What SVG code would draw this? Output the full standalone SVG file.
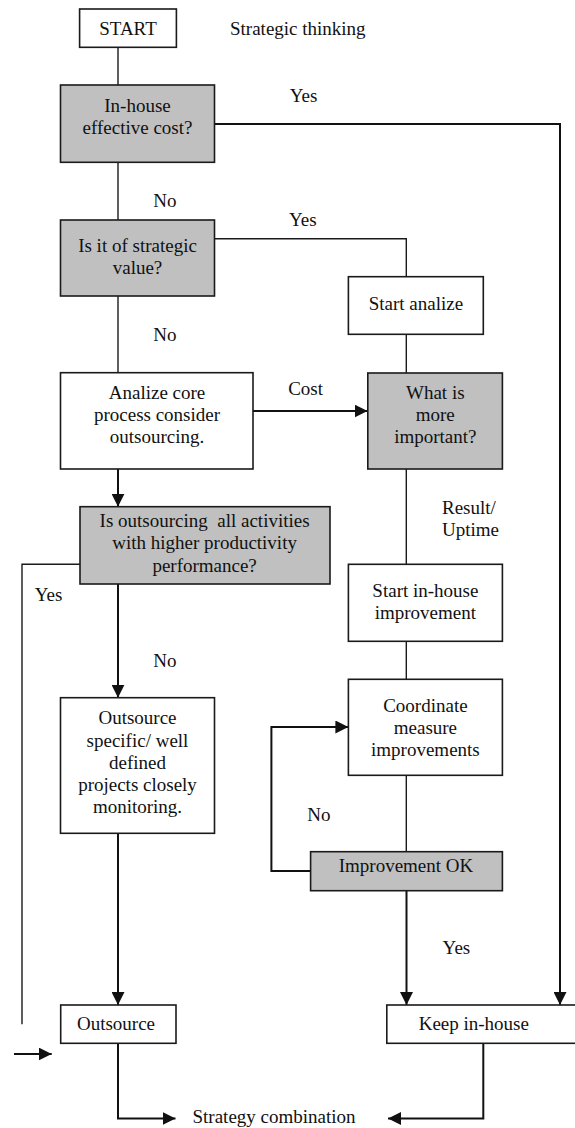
<svg xmlns="http://www.w3.org/2000/svg" width="575" height="1128" viewBox="0 0 575 1128">
<style>
  text { font-family: "Liberation Serif", "Times New Roman", serif; font-size: 19px; fill: #111; }
  .c { text-anchor: middle; }
  .box { fill: #fff; stroke: #1a1a1a; stroke-width: 1.6; }
  .dec { fill: #c0c0c0; stroke: #1a1a1a; stroke-width: 1.6; }
  .ln { fill: none; stroke: #1a1a1a; stroke-width: 1.4; }
  .ar { fill: none; stroke: #111; stroke-width: 2; marker-end: url(#ah); }
</style>
<defs>
  <marker id="ah" markerUnits="userSpaceOnUse" markerWidth="14" markerHeight="13" refX="13" refY="6.5" orient="auto">
    <path d="M0,0 L13,6.5 L0,13 Z" fill="#111"/>
  </marker>
</defs>
<rect width="575" height="1128" fill="#fff"/>

<g id="connectors">
  <path class="ln" d="M118,47.3 V85"/>
  <path class="ar" d="M214.5,124 H560 V1005"/>
  <path class="ln" d="M118,162.3 V220"/>
  <path class="ln" d="M214.5,238.7 H406.3 V276.7"/>
  <path class="ln" d="M118,296 V372.7"/>
  <path class="ln" d="M406.3,334.3 V373"/>
  <path class="ar" d="M253,411 H367.5"/>
  <path class="ln" d="M406.3,469 V564.3"/>
  <path class="ar" d="M118,469 V506.7"/>
  <path class="ln" d="M80,564.3 H22 V1024.3"/>
  <path class="ar" d="M14,1054 H51.7"/>
  <path class="ar" d="M118,584 V697.7"/>
  <path class="ln" d="M406.3,641.3 V679.3"/>
  <path class="ln" d="M406.3,775.3 V851.7"/>
  <path class="ar" d="M310.6,871 H271.4 V727 H348.4"/>
  <path class="ar" d="M406.5,890.7 V1005"/>
  <path class="ar" d="M118,833.3 V1005"/>
  <path class="ar" d="M118,1043.3 V1118.5 H175.5"/>
  <path class="ar" d="M483.3,1043.3 V1118.5 H388"/>
</g>

<g id="start">
  <rect class="box" x="79.6" y="9" width="96.8" height="38.3"/>
  <text class="c" x="128" y="34.7">START</text>
</g>
<g id="title">
  <text x="230" y="35">Strategic thinking</text>
</g>
<g id="inhouse-cost">
  <rect class="dec" x="60.5" y="85" width="154" height="77.3"/>
  <text class="c" x="137.5" y="112">In-house</text>
  <text class="c" x="137.5" y="133.5">effective cost?</text>
</g>
<g id="strategic-value">
  <rect class="dec" x="60.5" y="220" width="154" height="76"/>
  <text class="c" x="137.5" y="252">Is it of strategic</text>
  <text class="c" x="137.5" y="273.5">value?</text>
</g>
<g id="start-analize">
  <rect class="box" x="348.4" y="276.7" width="134.9" height="57.6"/>
  <text class="c" x="415.9" y="310">Start analize</text>
</g>
<g id="analize-core">
  <rect class="box" x="60.5" y="372.7" width="192.5" height="96.3"/>
  <text class="c" x="157" y="399">Analize core</text>
  <text class="c" x="157" y="421">process consider</text>
  <text class="c" x="157" y="443">outsourcing.</text>
</g>
<g id="what-important">
  <rect class="dec" x="367.8" y="373" width="134.6" height="96"/>
  <text class="c" x="435.3" y="399">What is</text>
  <text class="c" x="435.3" y="421">more</text>
  <text class="c" x="435.3" y="443">important?</text>
</g>
<g id="is-outsourcing">
  <rect class="dec" x="80" y="506.7" width="250" height="77.3"/>
  <text class="c" x="204.6" y="526.7" xml:space="preserve">Is outsourcing  all activities</text>
  <text class="c" x="204.6" y="549">with higher productivity</text>
  <text class="c" x="204.6" y="571.7">performance?</text>
</g>
<g id="start-inhouse">
  <rect class="box" x="348.4" y="564.3" width="154" height="77"/>
  <text class="c" x="425.4" y="597.3">Start in-house</text>
  <text class="c" x="425.4" y="619">improvement</text>
</g>
<g id="coordinate">
  <rect class="box" x="348.4" y="679.3" width="154" height="96"/>
  <text class="c" x="425.4" y="711.7">Coordinate</text>
  <text class="c" x="425.4" y="734">measure</text>
  <text class="c" x="425.4" y="755.7">improvements</text>
</g>
<g id="outsource-specific">
  <rect class="box" x="60.5" y="697.7" width="154" height="135.6"/>
  <text class="c" x="137.5" y="724.3">Outsource</text>
  <text class="c" x="137.5" y="746.7">specific/ well</text>
  <text class="c" x="137.5" y="769">defined</text>
  <text class="c" x="137.5" y="791">projects closely</text>
  <text class="c" x="137.5" y="813.3">monitoring.</text>
</g>
<g id="improvement-ok">
  <rect class="dec" x="310.6" y="851.7" width="191.8" height="39"/>
  <text class="c" x="406" y="871.7">Improvement OK</text>
</g>
<g id="outsource">
  <rect class="box" x="60.7" y="1005" width="115.3" height="38.3"/>
  <text class="c" x="116" y="1030">Outsource</text>
</g>
<g id="keep-inhouse">
  <rect class="box" x="386.8" y="1005" width="200" height="38.3"/>
  <text class="c" x="473.8" y="1030">Keep in-house</text>
</g>
<g id="strategy-combination">
  <text x="192.5" y="1123">Strategy combination</text>
</g>
<g id="labels">
  <text x="289.7" y="102">Yes</text>
  <text x="153.3" y="207">No</text>
  <text x="289" y="226">Yes</text>
  <text x="153.3" y="340.7">No</text>
  <text x="288.2" y="395">Cost</text>
  <text x="442" y="514">Result/</text>
  <text x="442" y="536">Uptime</text>
  <text x="34.8" y="600.7">Yes</text>
  <text x="153.3" y="666.7">No</text>
  <text x="307.3" y="820.7">No</text>
  <text x="442.6" y="954.3">Yes</text>
</g>
</svg>
